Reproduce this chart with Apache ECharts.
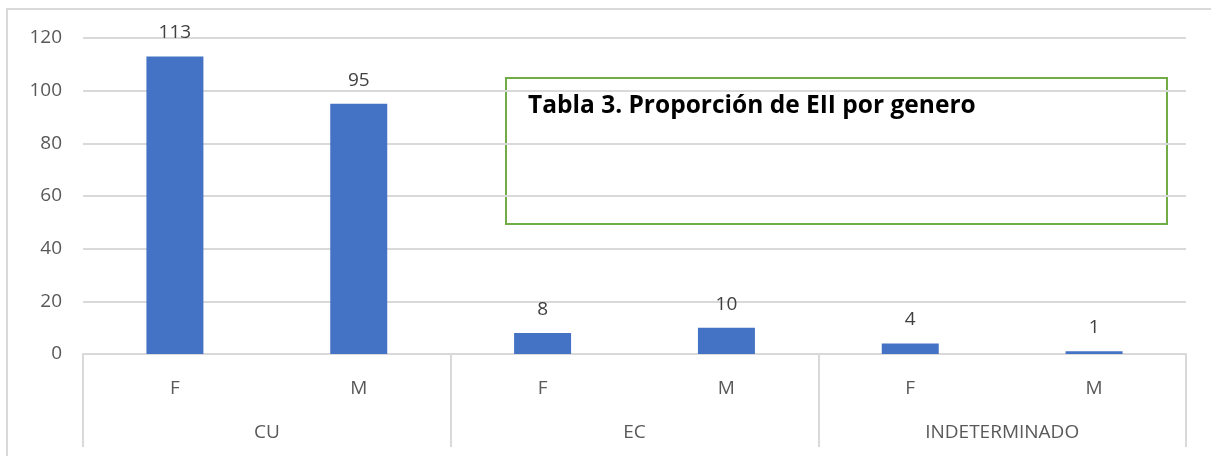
<!DOCTYPE html>
<html>
<head>
<meta charset="utf-8">
<style>
  html, body { margin: 0; padding: 0; background: #ffffff; }
  #chart { width: 1211px; height: 456px; }
</style>
<script src="https://cdn.jsdelivr.net/npm/echarts@6/dist/echarts.min.js"></script>
</head>
<body>
<div id="chart"></div>
<script>
// Sex within each diagnosis group (inner axis level)
const sexLabels = ['F', 'M', 'F', 'M', 'F', 'M'];
// Diagnosis groups (outer axis level)
const groups = ['CU', 'EC', 'INDETERMINADO'];
// Patient counts per bar
const counts = [113, 95, 8, 10, 4, 1];
// Value axis ticks
const yTicks = [0, 20, 40, 60, 80, 100, 120];
const chartTitle = 'Tabla 3. Proporción de EII por genero';

const textFont = '"Open Sans", "Liberation Sans", sans-serif';
const gridGray = '#d9d9d9';

const chart = echarts.init(document.getElementById('chart'), null, { renderer: 'canvas' });

chart.setOption({
  animation: false,
  backgroundColor: '#ffffff',
  grid: { left: 83, right: 25, top: 38, bottom: 102, containLabel: false },
  xAxis: [
    {
      type: 'category',
      data: sexLabels,
      position: 'bottom',
      axisLine: { show: true, lineStyle: { color: gridGray, width: 2 } },
      axisTick: { show: false },
      axisLabel: { color: '#595959', fontFamily: textFont, fontSize: 19, margin: 25 }
    },
    {
      type: 'category',
      data: groups,
      position: 'bottom',
      axisLine: { show: false },
      axisTick: { show: true, length: 93, interval: 0, lineStyle: { color: gridGray, width: 2 } },
      axisLabel: { color: '#595959', fontFamily: textFont, fontSize: 19, margin: 69 }
    }
  ],
  yAxis: {
    type: 'value',
    min: yTicks[0],
    max: yTicks[yTicks.length - 1],
    interval: yTicks[1] - yTicks[0],
    axisLine: { show: false },
    axisTick: { show: false },
    axisLabel: { color: '#595959', fontFamily: textFont, fontSize: 19, margin: 21 },
    splitLine: { show: true, lineStyle: { color: gridGray, width: 2 } }
  },
  series: [
    {
      type: 'bar',
      xAxisIndex: 0,
      data: counts,
      barWidth: '31%',
      itemStyle: { color: '#4472c4' },
      label: {
        show: true,
        position: 'top',
        distance: 14,
        color: '#404040',
        fontFamily: textFont,
        fontSize: 19
      }
    }
  ],
  graphic: [
    {
      // chart frame
      type: 'rect',
      silent: true,
      shape: { x: 7, y: 9, width: 1230, height: 470 },
      style: { fill: 'none', stroke: gridGray, lineWidth: 2 },
      z: 0
    },
    {
      type: 'group',
      left: 505,
      top: 77,
      z: 100,
      children: [
        {
          type: 'rect',
          shape: { x: 0, y: 0, width: 661, height: 146 },
          style: { fill: '#ffffff', stroke: '#70ad47', lineWidth: 2 }
        },
        {
          type: 'text',
          x: 22,
          y: 15,
          scaleX: 0.98,
          style: {
            text: chartTitle,
            fill: '#000000',
            font: 'bold 25px "Open Sans", sans-serif'
          }
        }
      ]
    }
  ]
});
</script>
</body>
</html>
